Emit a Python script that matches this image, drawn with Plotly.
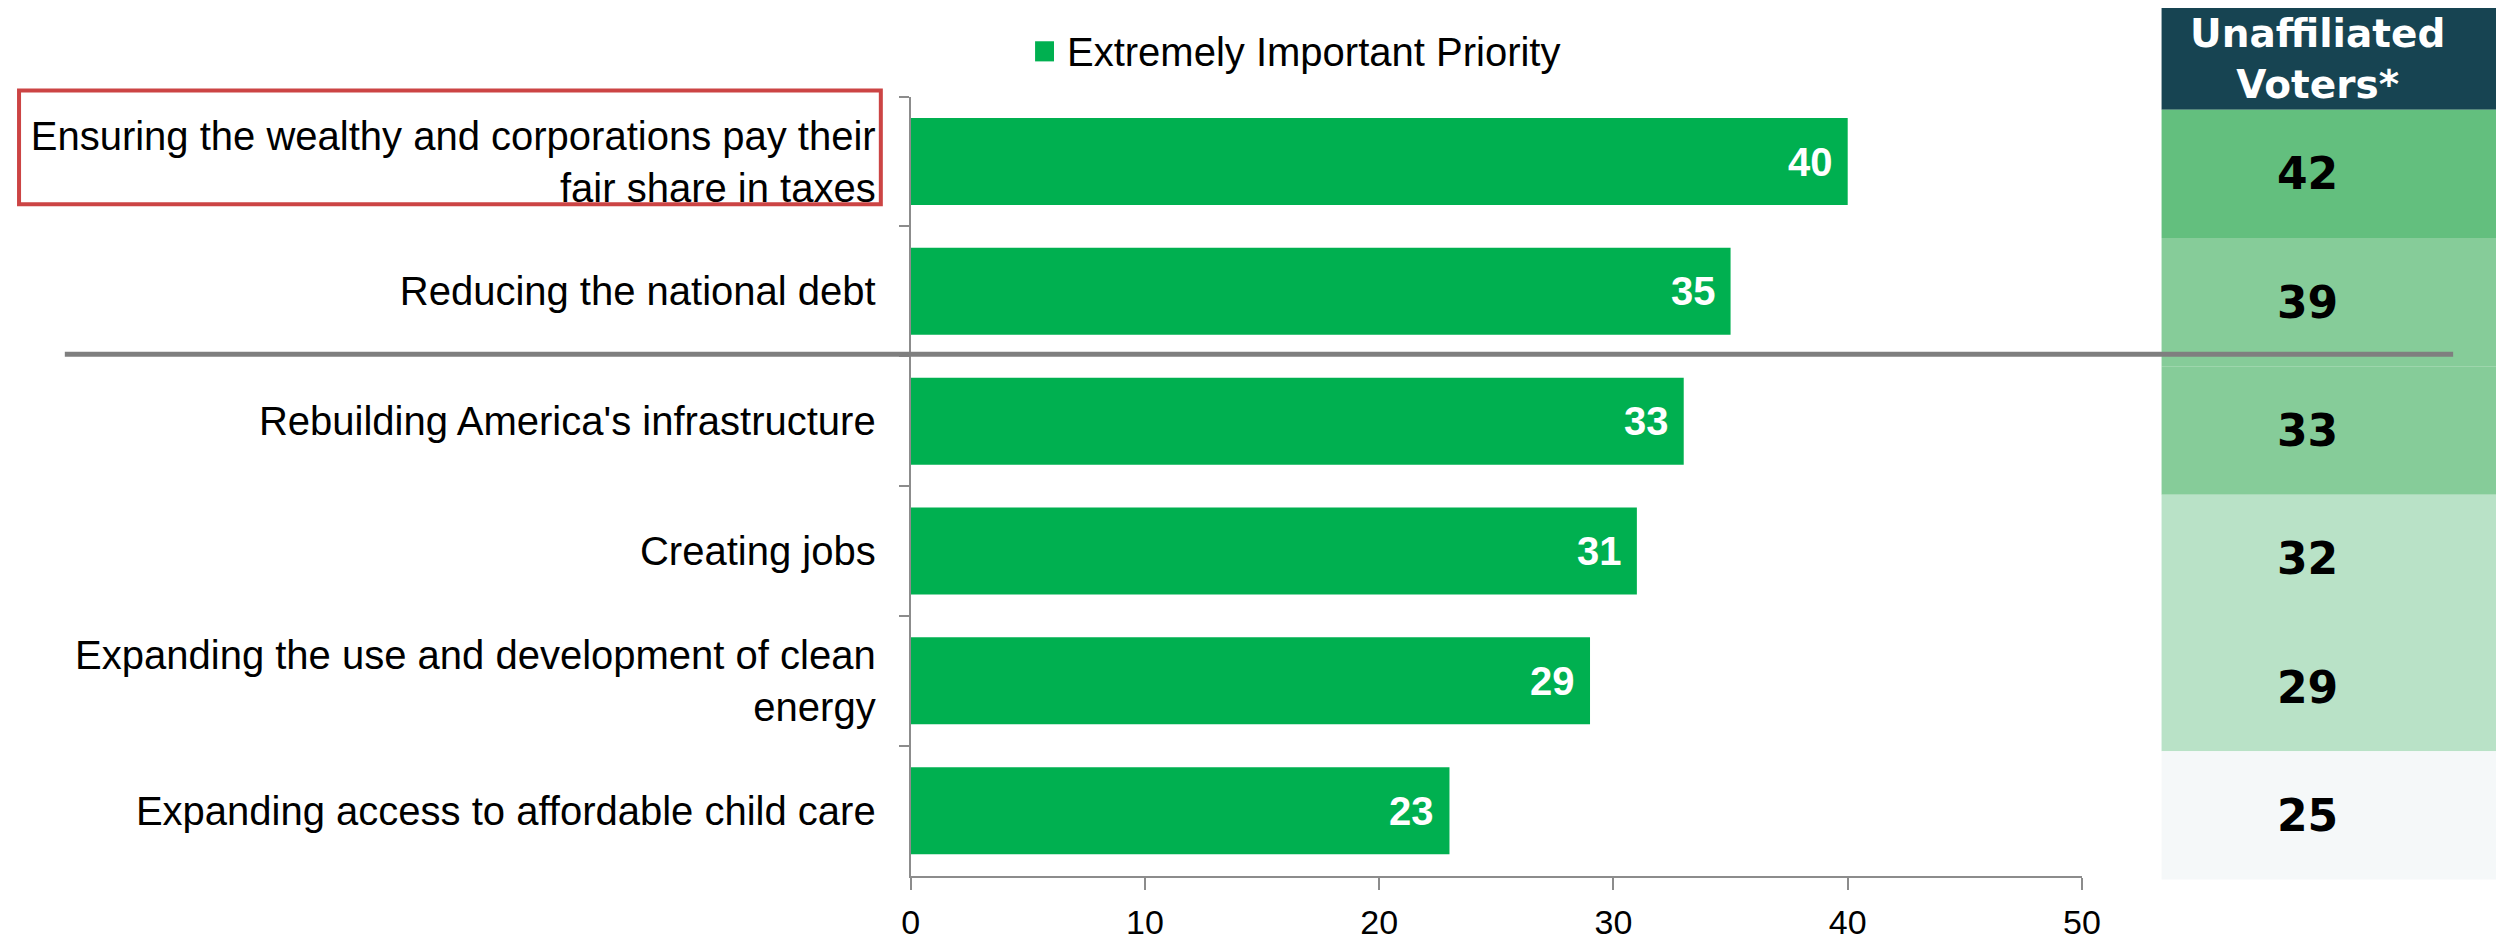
import plotly.graph_objects as go

W, H = 2504, 938
OFF = 8              # page body margin around the figure
SC = W / (W + 2 * OFF)  # photo of the page is scaled to the window width

categories = [
    "Ensuring the wealthy and corporations pay their<br>fair share in taxes",
    "Reducing the national debt",
    "Rebuilding America's infrastructure",
    "Creating jobs",
    "Expanding the use and development of clean<br>energy",
    "Expanding access to affordable child care",
]
extremely_important = [40, 35, 33, 31, 29, 23]
unaffiliated = [42, 39, 33, 32, 29, 25]
row_colors = ["#63BF7E", "#86CC99", "#86CC99", "#B9E2C7", "#B9E2C7", "#F5F8F9"]
x_ticks = [0, 10, 20, 30, 40, 50]
series_name = "Extremely Important Priority"
table_header = "Unaffiliated<br>Voters*"

FONT = "Liberation Sans, Arial, sans-serif"
BAR_GREEN = "#00B050"
AXIS_GRAY = "#8C8C8C"


def px(x):
    return (x / SC - OFF) / W


def py(y):
    return 1 - (y / SC - OFF) / H


fig = go.Figure()
fig.add_trace(go.Bar(
    x=extremely_important,
    y=categories,
    orientation="h",
    name=series_name,
    marker=dict(color=BAR_GREEN, line=dict(width=0)),
    showlegend=False,
))

annotations = []
# value labels inside bar ends
for c, v in zip(categories, extremely_important):
    annotations.append(dict(
        x=v, y=c, xref="x", yref="y", text=str(v), showarrow=False,
        xanchor="right", yanchor="middle", xshift=-13,
        font=dict(family=FONT, size=40, color="white", weight="bold"),
    ))

shapes = []
# manual legend
shapes.append(dict(type="rect", xref="paper", yref="paper",
                   x0=px(1031), x1=px(1050), y0=py(61), y1=py(41),
                   fillcolor=BAR_GREEN, line=dict(width=0)))
annotations.append(dict(
    x=px(1061), y=py(52), xref="paper", yref="paper", text=series_name,
    showarrow=False, xanchor="left", yanchor="middle",
    font=dict(family=FONT, size=40, color="black"),
))

# table on the right
t_left, t_right = 2163, 2530
hdr_top, hdr_bot = 6, 109
row_h = (874 - hdr_bot) / len(unaffiliated)
shapes.append(dict(type="rect", xref="paper", yref="paper",
                   x0=px(t_left), x1=px(t_right), y0=py(hdr_bot), y1=py(hdr_top),
                   fillcolor="#174452", line=dict(width=0), layer="below"))
annotations.append(dict(
    x=px(2320), y=py((hdr_top + hdr_bot) / 2 + 1), xref="paper", yref="paper",
    text=table_header, showarrow=False, xanchor="center", yanchor="middle",
    font=dict(family="DejaVu Sans, sans-serif", size=39, color="white", weight="bold"),
))
for i, (val, col) in enumerate(zip(unaffiliated, row_colors)):
    y0 = hdr_bot + i * row_h
    y1 = y0 + row_h
    shapes.append(dict(type="rect", xref="paper", yref="paper",
                       x0=px(t_left), x1=px(t_right), y0=py(y1), y1=py(y0),
                       fillcolor=col, line=dict(width=0), layer="below"))
    annotations.append(dict(
        x=px(2310), y=py((y0 + y1) / 2), xref="paper", yref="paper",
        text=str(val), showarrow=False, xanchor="center", yanchor="middle",
        font=dict(family="DejaVu Sans, sans-serif", size=44, color="black", weight="bold"),
    ))

# separator line
shapes.append(dict(type="line", xref="paper", yref="paper",
                   x0=px(56), x1=px(2456), y0=py(352), y1=py(352),
                   line=dict(color="#7F7F7F", width=5), layer="above"))
# red highlight box
shapes.append(dict(type="rect", xref="paper", yref="paper",
                   x0=px(10), x1=px(876), y0=py(203), y1=py(90),
                   line=dict(color="#CC4444", width=4), fillcolor="rgba(0,0,0,0)"))

fig.update_layout(
    width=W, height=H,
    margin=dict(l=0, r=0, t=0, b=0),
    paper_bgcolor="white", plot_bgcolor="white",
    font=dict(family=FONT, color="black"),
    bargap=0.33,
    showlegend=False,
    xaxis=dict(
        domain=[px(906), px(2083)], range=[0, 50],
        tickvals=x_ticks, ticktext=[str(t) for t in x_ticks],
        showgrid=False, zeroline=False,
        showline=True, linecolor=AXIS_GRAY, linewidth=2,
        ticks="outside", ticklen=12, tickwidth=2, tickcolor=AXIS_GRAY,
        ticklabelstandoff=4,
        tickfont=dict(family=FONT, size=34, color="black"),
        anchor="y",
    ),
    yaxis=dict(
        domain=[py(870), py(96)],
        categoryorder="array", categoryarray=categories,
        autorange="reversed",
        showgrid=False, zeroline=False,
        showline=True, linecolor=AXIS_GRAY, linewidth=2,
        ticks="outside", ticklen=10, tickwidth=2, tickcolor=AXIS_GRAY,
        tickson="boundaries",
        ticklabelstandoff=25,
        tickfont=dict(family=FONT, size=40, color="black"),
        anchor="x",
    ),
    shapes=shapes,
    annotations=annotations,
)

fig.write_html("out.html")
